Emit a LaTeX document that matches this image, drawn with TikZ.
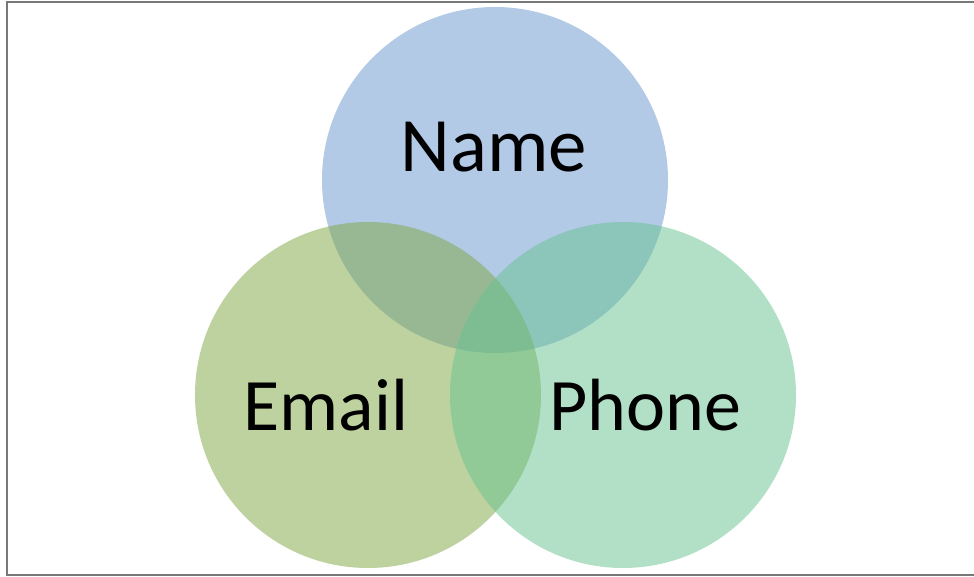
\documentclass[tikz,border=0pt]{standalone}
\usepackage{fontspec}
\setmainfont{Carlito}
\definecolor{nameblue}{RGB}{105,151,209}
\definecolor{emailgreen}{RGB}{125,167,65}
\definecolor{phonegreen}{RGB}{103,195,145}
\definecolor{framegray}{RGB}{120,120,120}
\tikzset{
  venn/.style={circle, minimum size=346pt, inner sep=0pt, fill opacity=0.5, draw=none},
  lbl/.style={font=\fontsize{74}{80}\selectfont, text=black, inner sep=0pt, anchor=base}
}
\begin{document}
\begin{tikzpicture}[x=1pt,y=-1pt]
\useasboundingbox (0,0) rectangle (974,577);
\fill[white] (0,0) rectangle (974,577);
\draw[framegray, line width=2pt] (976,2) -- (7,2) -- (7,575) -- (976,575);
\node[venn, fill=nameblue] (name) at (495,180) {};
\node[venn, fill=emailgreen] (email) at (368,395) {};
\node[venn, fill=phonegreen] (phone) at (623,395) {};
\node[lbl, font=\fontsize{77}{82}\selectfont] (nametxt) at (494,172) {Name};
\node[lbl] (emailtxt) at (326,430) {Email};
\node[lbl] (phonetxt) at (645,430) {Phone};
\end{tikzpicture}
\end{document}
